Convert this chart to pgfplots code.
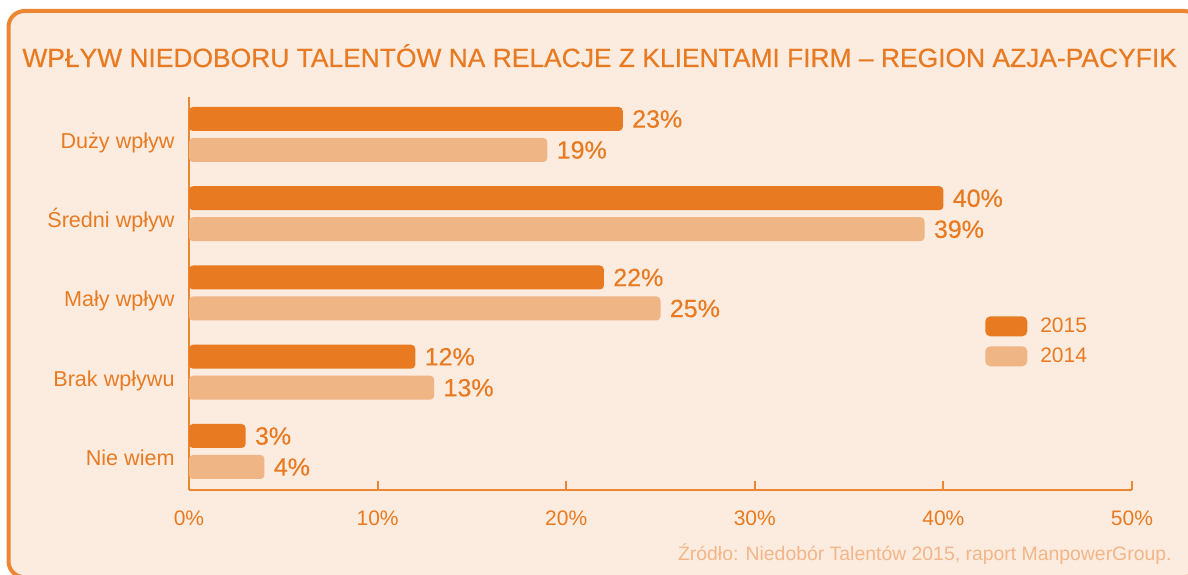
\documentclass[border=0pt]{standalone}
\usepackage{fontspec}
\setmainfont{Liberation Sans}
\newfontfamily\titlefont[FakeBold=0.5]{Liberation Sans}
\newfontfamily\valfont[FakeBold=0.3]{Liberation Sans}
\usepackage{pgfplots}
\pgfplotsset{compat=1.18}
\definecolor{c15}{HTML}{E87B22}
\definecolor{c14}{HTML}{F0B585}
\definecolor{bg}{HTML}{FCEBDF}
\definecolor{src}{HTML}{F2B689}
\definecolor{axc}{HTML}{EC8633}
\begin{document}
\begin{tikzpicture}
\useasboundingbox (0,0) rectangle (594pt,287pt);
\fill[white] (0,0) rectangle (594pt,287pt);
\draw[axc, line width=2pt, fill=bg, rounded corners=8pt] (4.25pt,-1.6pt) rectangle (600pt,281.5pt);
\node[anchor=base west, inner sep=0pt, text=c15, font=\titlefont\fontsize{13.2}{15}\selectfont] at (11pt,253.5pt) {WPŁYW NIEDOBORU TALENTÓW NA RELACJE Z KLIENTAMI FIRM – REGION AZJA-PACYFIK};
\node[anchor=base east, inner sep=0pt, text=src, font=\fontsize{9.7}{11}\selectfont] at (586pt,7pt) {Źródło: Niedobór Talentów 2015, raport ManpowerGroup.};
\begin{axis}[
  at={(94.5pt,42pt)}, anchor=south west,
  scale only axis, width=471.5pt, height=196.5pt,
  xbar, bar width=12pt,
  xmin=0, xmax=50, ymin=-0.486, ymax=4.473,
  clip=false,
  axis x line=bottom, axis y line=left,
  axis line style={-, axc, line width=1pt},
  xtick={0,10,20,30,40,50},
  xticklabels={0\%,10\%,20\%,30\%,40\%,50\%},
  ytick={0,1,2,3,4},
  yticklabels={Nie wiem, Brak wpływu, Mały wpływ, Średni wpływ, Duży wpływ},
  tick align=inside, major tick length=4.5pt,
  xtick style={axc, line width=1pt},
  ytick style={draw=none},
  xticklabel style={anchor=base, inner sep=0pt, yshift=-17.5pt, text=c15, font=\fontsize{10.5}{12}\selectfont},
  yticklabel style={anchor=base east, inner sep=0pt, xshift=-7pt, yshift=-7pt, text=c15, font=\fontsize{10.8}{13}\selectfont},
  /pgf/number format/assume math mode=true,
  point meta=x,
  nodes near coords={\pgfmathprintnumber{\pgfplotspointmeta}\%},
  nodes near coords style={anchor=west, inner sep=0pt, xshift=4.5pt, text=c15, font=\valfont\fontsize{12.5}{15}\selectfont},
  legend style={at={(0.844,0.443)}, anchor=north west, draw=none, fill=none, inner sep=0pt,
    row sep=5pt, column sep=6.5pt, font=\fontsize{10.5}{12}\selectfont, text=c15, nodes={inner sep=0pt}},
  legend cell align=left,
]
\addplot[fill=c15, draw=none, rounded corners=2pt, bar shift=7.75pt,
  legend image code/.code={\fill[c15, rounded corners=2.5pt] (0pt,-5pt) rectangle (21pt,5pt);}]
  coordinates {(23,4) (40,3) (22,2) (12,1) (3,0)};
\addlegendentry{2015}
\addplot[fill=c14, draw=none, rounded corners=2pt, bar shift=-7.75pt,
  legend image code/.code={\fill[c14, rounded corners=2.5pt] (0pt,-5pt) rectangle (21pt,5pt);}]
  coordinates {(19,4) (39,3) (25,2) (13,1) (4,0)};
\addlegendentry{2014}
\end{axis}
\end{tikzpicture}
\end{document}
